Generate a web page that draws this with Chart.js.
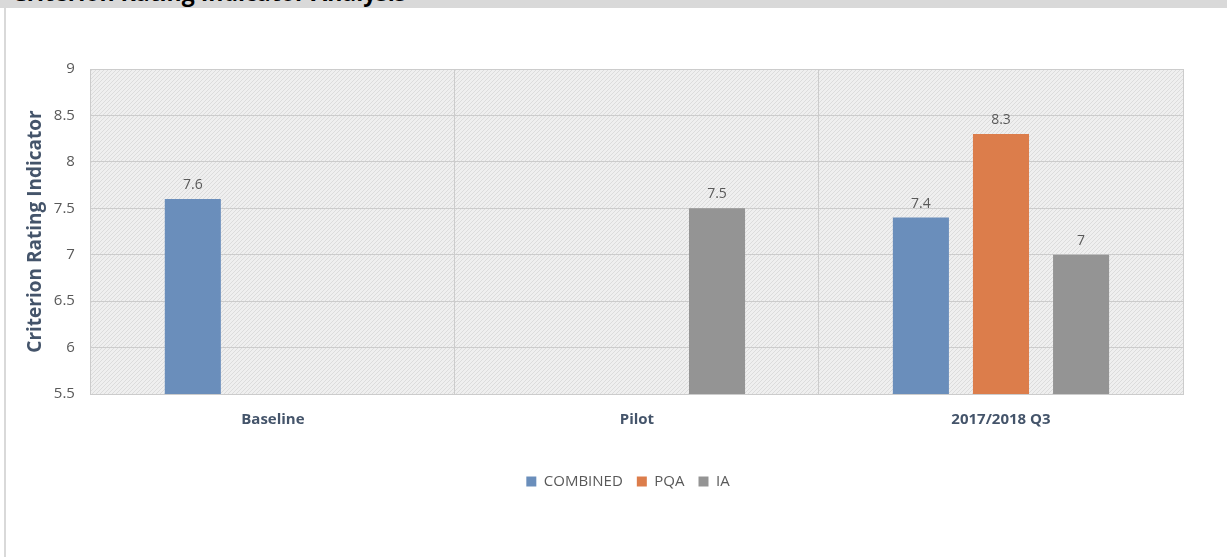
<!DOCTYPE html>
<html>
<head>
<meta charset="utf-8">
<script src="https://cdn.jsdelivr.net/npm/chart.js@4/dist/chart.umd.min.js"></script>
<style>
  html, body { margin: 0; padding: 0; background: #fff; }
  body { width: 1227px; height: 557px; position: relative; overflow: hidden; font-family: "Open Sans", sans-serif; }
  .top-band { position: absolute; left: 0; top: 0; width: 1227px; height: 8px; background: #d9d9d9; overflow: hidden; }
  .top-band h1 { position: absolute; left: 12px; top: -24px; margin: 0; font: bold 23px "Open Sans", sans-serif; color: #000; white-space: nowrap; }
  .left-rule { position: absolute; left: 4px; top: 8px; width: 2px; height: 549px; background: #d9d9d9; }
  .chart-box { position: absolute; left: 6px; top: 8px; width: 1221px; height: 549px; }
</style>
</head>
<body>
<div class="top-band"><h1>Criterion Rating Indicator Analysis</h1></div>
<div class="left-rule"></div>
<div class="chart-box"><canvas id="ratingChart"></canvas></div>
<script>
const categories = ['Baseline', 'Pilot', '2017/2018 Q3'];
const combinedValues = [7.6, null, 7.4];
const pqaValues = [null, null, 8.3];
const iaValues = [null, 7.5, 7.0];
const yTicks = { min: 5.5, max: 9, step: 0.5 };

// light diagonal hatch used behind the bars
function makeHatch() {
    const c = document.createElement('canvas');
    c.width = 4;
    c.height = 4;
    const g = c.getContext('2d');
    g.fillStyle = '#efefef';
    g.fillRect(0, 0, 4, 4);
    g.fillStyle = '#dcdcdc';
    for (let i = 0; i < 4; i++) g.fillRect(i, 3 - i, 1, 1);
    return g.createPattern(c, 'repeat');
}

const hatchBackground = {
    id: 'hatchBackground',
    beforeDraw(chart) {
        const { ctx, chartArea: a } = chart;
        ctx.save();
        ctx.fillStyle = makeHatch();
        ctx.fillRect(a.left, a.top, a.right - a.left, a.bottom - a.top);
        ctx.restore();
    }
};

// legend sits centred under the whole page, not under the plot box
const legendShift = {
    id: 'legendShift',
    afterLayout(chart) {
        chart.legend.left += 29;
        chart.legend.right += 29;
    }
};

const barValues = {
    id: 'barValues',
    afterDatasetsDraw(chart) {
        const ctx = chart.ctx;
        ctx.save();
        ctx.font = '14px "Open Sans", sans-serif';
        ctx.fillStyle = '#595959';
        ctx.textAlign = 'center';
        ctx.textBaseline = 'bottom';
        chart.data.datasets.forEach((ds, i) => {
            chart.getDatasetMeta(i).data.forEach((bar, j) => {
                const v = ds.data[j];
                if (v === null) return;
                ctx.fillText(String(v), bar.x, bar.y - 7);
            });
        });
        ctx.restore();
    }
};

new Chart(document.getElementById('ratingChart'), {
    type: 'bar',
    data: {
        labels: categories,
        datasets: [
            { label: 'COMBINED', data: combinedValues, backgroundColor: '#6a8ebb' },
            { label: 'PQA', data: pqaValues, backgroundColor: '#dc7d4b' },
            { label: 'IA', data: iaValues, backgroundColor: '#949494' }
        ]
    },
    options: {
        responsive: true,
        maintainAspectRatio: false,
        animation: false,
        datasets: {
            bar: { categoryPercentage: 0.66, barPercentage: 0.7, skipNull: false }
        },
        layout: { padding: { left: 9, right: 44, top: 61, bottom: 58 } },
        plugins: {
            legend: {
                position: 'bottom',
                labels: {
                    boxWidth: 10,
                    boxHeight: 10,
                    padding: 14,
                    color: '#595959',
                    font: { family: 'Open Sans', size: 15 }
                }
            },
            tooltip: { enabled: false }
        },
        scales: {
            x: {
                grid: { color: '#cccccc', drawTicks: false },
                border: { color: '#cccccc' },
                ticks: {
                    padding: 17,
                    color: '#44546a',
                    font: { family: 'Open Sans', size: 15, weight: 'bold' }
                },
                afterFit(scale) { scale.height += 14; }
            },
            y: {
                min: yTicks.min,
                max: yTicks.max,
                grid: { color: '#cccccc', drawTicks: false },
                border: { display: false },
                ticks: {
                    stepSize: yTicks.step,
                    padding: 16,
                    color: '#595959',
                    font: { family: 'Open Sans', size: 15 },
                    callback: v => String(v)
                },
                title: {
                    display: true,
                    text: 'Criterion Rating Indicator',
                    color: '#44546a',
                    padding: { top: 9, bottom: -9 },
                    font: { family: 'Open Sans', size: 19, weight: 'bold' }
                }
            }
        }
    },
    plugins: [hatchBackground, legendShift, barValues]
});
</script>
</body>
</html>
